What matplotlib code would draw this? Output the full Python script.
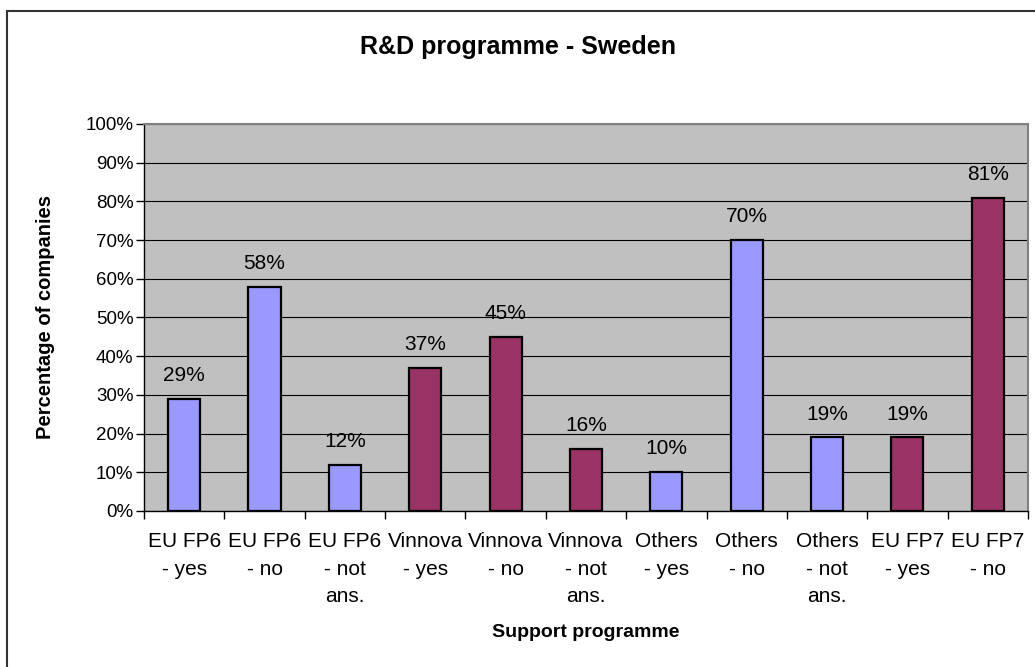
import numpy as np
import matplotlib.pyplot as plt
from matplotlib.patches import Rectangle
from matplotlib.ticker import FixedLocator

plt.rcParams['font.family'] = ['Liberation Sans', 'DejaVu Sans']

categories = ["EU FP6\n- yes", "EU FP6\n- no", "EU FP6\n- not\nans.",
              "Vinnova\n- yes", "Vinnova\n- no", "Vinnova\n- not\nans.",
              "Others\n- yes", "Others\n- no", "Others\n- not\nans.",
              "EU FP7\n- yes", "EU FP7\n- no"]
values = [29, 58, 12, 37, 45, 16, 10, 70, 19, 19, 81]
groups = ["blue", "blue", "blue", "red", "red", "red",
          "blue", "blue", "blue", "red", "red"]
palette = {"blue": "#9999FF", "red": "#993366"}

fig = plt.figure(figsize=(10.35, 6.67), dpi=100)
ax = fig.add_axes([0.1391, 0.2339, 0.8541, 0.5802])
ax.set_facecolor('#C0C0C0')

x = np.arange(len(values))
bars = ax.bar(x, values, width=0.4, color=[palette[g] for g in groups],
              edgecolor='black', linewidth=1.6, zorder=3)
for xi, v in zip(x, values):
    ax.annotate(f"{v}%", (xi, v), xytext=(0, 10), textcoords='offset points',
                ha='center', va='bottom', fontsize=15)

ax.set_xlim(-0.5, len(values) - 0.5)
ax.set_ylim(0, 100)
ax.set_yticks(np.arange(0, 101, 10))
ax.set_yticklabels([f"{t}%" for t in range(0, 101, 10)], fontsize=13.5)
ax.yaxis.grid(True, color='black', linewidth=0.8, zorder=1)
ax.set_axisbelow(True)

ax.set_xticks(x)
ax.set_xticklabels(categories, fontsize=15, linespacing=1.58, va='top')
ax.xaxis.set_minor_locator(FixedLocator(np.arange(-0.5, len(values), 1)))
ax.tick_params(axis='x', which='major', length=0, pad=15)
ax.tick_params(axis='x', which='minor', length=6, direction='out', width=1)
ax.tick_params(axis='y', length=6, direction='out', width=1, pad=1.5)

for s in ['top', 'right']:
    ax.spines[s].set_color('#808080')
    ax.spines[s].set_linewidth(1.5)
for s in ['left', 'bottom']:
    ax.spines[s].set_color('black')
    ax.spines[s].set_linewidth(1)

ax.set_ylabel('Percentage of companies', fontsize=14.5, fontweight='bold')
ax.yaxis.set_label_coords(-0.101, 0.5)
ax.set_xlabel('Support programme', fontsize=14, fontweight='bold')
ax.xaxis.set_label_coords(0.5, -0.293)
fig.text(0.5, 0.9295, 'R&D programme - Sweden', ha='center', va='center',
         fontsize=18, fontweight='bold')

# outer chart border
fig.patches.append(Rectangle((7 / 1035, -0.05), 1.1, 0.9835 + 0.05,
                             transform=fig.transFigure, fill=False,
                             edgecolor='#333333', linewidth=1.5, clip_on=False))

fig.savefig('out.png', dpi=100)
